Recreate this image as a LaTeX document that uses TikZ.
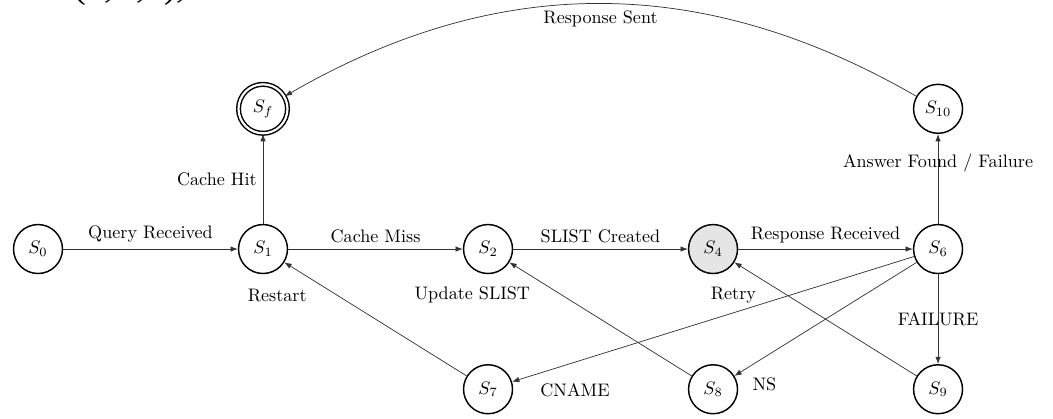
\documentclass[tikz,border=0pt]{standalone}
\usepackage{fontspec}
\newfontfamily\tuplefont{Liberation Serif}
\usetikzlibrary{arrows.meta}

\tikzset{
  dstate/.style={circle, draw, thick, minimum size=0.95cm, inner sep=0pt},
  trans/.style={draw=black!80, -{Latex[length=4pt,width=3pt]}},
}

\begin{document}
\begin{tikzpicture}
    \clip (-0.737,-3.279) rectangle (19.69,4.831);
    \node[anchor=base west, font=\tuplefont\fontsize{21}{24}\selectfont] (tup) at (-0.64,4.87) {P = (\textit{S},Σ,\textit{δ}),};

    % states
    \node[dstate] (s0) at (0,0) {$S_0$};
    \node[dstate] (s1) at (4.365,0) {$S_1$};
    \node[dstate] (s2) at (8.73,0) {$S_2$};
    \node[dstate, fill=gray!20] (s4) at (13.095,0) {$S_4$};
    \node[dstate] (s6) at (17.46,0) {$S_6$};
    \node[dstate, double, double distance=1.2pt] (sf) at (4.365,2.72) {$S_f$};
    \node[dstate] (s10) at (17.46,2.72) {$S_{10}$};
    \node[dstate] (s7) at (8.73,-2.72) {$S_7$};
    \node[dstate] (s8) at (13.095,-2.72) {$S_8$};
    \node[dstate] (s9) at (17.46,-2.72) {$S_9$};

    % transitions
    \draw[trans] (s0) -- node[above] {Query Received} (s1);
    \draw[trans] (s1) -- node[above] {Cache Miss} (s2);
    \draw[trans] (s2) -- node[above] {SLIST Created} (s4);
    \draw[trans] (s4) -- node[above] {Response Received} (s6);
    \draw[trans] (s1) -- node[left] {Cache Hit} (sf);
    \draw[trans] (s6) -- node[above] {Answer Found / Failure} (s10);
    \draw[trans] (s6) -- node {FAILURE} (s9);
    \draw[trans] (s10) to[bend right=30] node[below] {Response Sent} (sf);
    \draw[trans] (s7) -- node[at end, shift={(-0.14,-0.64)}] {Restart} (s1);
    \draw[trans] (s8) -- node[at end, shift={(-0.72,-0.64)}] {Update SLIST} (s2);
    \draw[trans] (s9) -- node[at end, shift={(-0.02,-0.64)}] {Retry} (s4);
    \draw[trans] (s6) -- node[at end, shift={(1.22,-0.17)}] {CNAME} (s7);
    \draw[trans] (s6) -- node[at end, shift={(0.58,-0.17)}] {NS} (s8);
\end{tikzpicture}
\end{document}
